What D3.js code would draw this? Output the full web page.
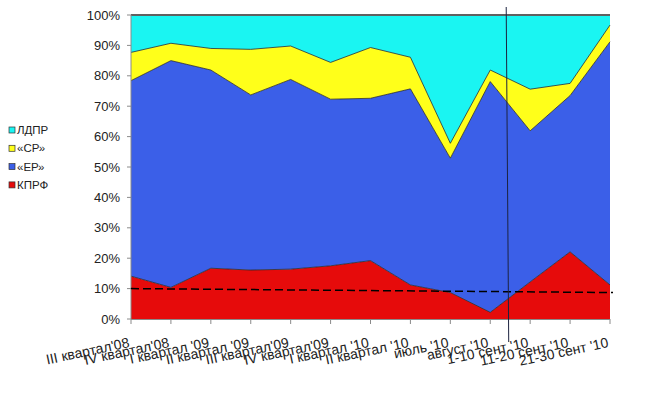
<!DOCTYPE html>
<html>
<head>
<meta charset="utf-8">
<script src="https://cdn.jsdelivr.net/npm/d3@7"></script>
<style>
  body { margin: 0; background: #fff; }
  svg { display: block; font-family: "Liberation Sans", Arial, sans-serif; }
</style>
</head>
<body>
<svg id="chart" width="649" height="397"></svg>
<script>
// periods along the x axis
const periods = ["III квартал'08", "IV квартал'08", "I квартал '09", "II квартал '09",
  "III квартал'09", "IV квартал'09", "I квартал '10", "II квартал '10",
  "июль '10", "август '10", "1-10 сент '10", "11-20 сент '10", "21-30 сент '10"];

// shares, percent (bottom to top)
const kprf = [14.1, 10.4, 16.7, 16.1, 16.4, 17.5, 19.2, 11.2, 8.7, 2.2, 12.2, 22.1, 11.2];
const er   = [64.3, 74.6, 65.2, 57.6, 62.4, 54.8, 53.4, 64.5, 44.2, 75.9, 49.7, 51.4, 80.0];
const sr   = [9.3, 5.7, 7.1, 15.0, 11.0, 12.1, 16.7, 10.4, 4.9, 3.8, 13.7, 4.0, 5.5];
const ldpr = kprf.map((d, i) => 100 - d - er[i] - sr[i]);

const seriesNames = ["КПРФ", "«ЕР»", "«СР»", "ЛДПР"];
const seriesColors = ["#e60b0b", "#3b5fe8", "#ffff1a", "#1af5f2"];
const yTicks = [0, 10, 20, 30, 40, 50, 60, 70, 80, 90, 100];
// dashed trend line (start / end, percent)
const trend = [10.0, 8.7];
// marker between "август '10" and "1-10 сент '10"
const markerPos = 9.4;

const svg = d3.select("#chart");
const margin = { left: 131, right: 39, top: 15, bottom: 78 };
const W = 649, H = 397;

const x = d3.scaleLinear().domain([0, periods.length - 1]).range([margin.left, W - margin.right]);
const y = d3.scaleLinear().domain([0, 100]).range([H - margin.bottom, margin.top]);

const rows = periods.map((p, i) => ({ i, "КПРФ": kprf[i], "«ЕР»": er[i], "«СР»": sr[i], "ЛДПР": ldpr[i] }));
const stacked = d3.stack().keys(seriesNames)(rows);

const area = d3.area()
  .x(d => x(d.data.i))
  .y0(d => y(d[0]))
  .y1(d => y(d[1]));
const topLine = d3.line()
  .x(d => x(d.data.i))
  .y(d => y(d[1]));

svg.append("g").selectAll("path")
  .data(stacked)
  .join("path")
  .attr("d", area)
  .attr("fill", (d, i) => seriesColors[i]);

// boundaries between layers
svg.append("g").selectAll("path")
  .data(stacked.slice(0, 3))
  .join("path")
  .attr("d", topLine)
  .attr("fill", "none")
  .attr("stroke", "#2a2a2a")
  .attr("stroke-width", 0.8);

// frame: top border, left axis, bottom axis
svg.append("line")
  .attr("x1", x(0)).attr("x2", x(periods.length - 1))
  .attr("y1", y(100)).attr("y2", y(100))
  .attr("stroke", "#606060").attr("stroke-width", 2);
svg.append("line")
  .attr("x1", x(0)).attr("x2", x(0))
  .attr("y1", y(100)).attr("y2", y(0))
  .attr("stroke", "#8a8a8a").attr("stroke-width", 1);
svg.append("line")
  .attr("x1", x(0)).attr("x2", x(periods.length - 1))
  .attr("y1", y(0) + 0.5).attr("y2", y(0) + 0.5)
  .attr("stroke", "#8a8a8a").attr("stroke-width", 1);

// y ticks + labels
const yg = svg.append("g");
yTicks.forEach(t => {
  yg.append("line")
    .attr("x1", x(0) - 4).attr("x2", x(0))
    .attr("y1", y(t)).attr("y2", y(t))
    .attr("stroke", "#8a8a8a");
  yg.append("text")
    .attr("x", 120).attr("y", y(t))
    .attr("dy", "0.36em")
    .attr("text-anchor", "end")
    .attr("font-size", 13)
    .attr("fill", "#222")
    .text(t + "%");
});

// x ticks + rotated labels
const xg = svg.append("g");
periods.forEach((p, i) => {
  xg.append("line")
    .attr("x1", x(i)).attr("x2", x(i))
    .attr("y1", y(0)).attr("y2", y(0) + 5)
    .attr("stroke", "#8a8a8a");
  xg.append("text")
    .attr("transform", `translate(${x(i) - 1},${y(0) + 28}) rotate(-12)`)
    .attr("text-anchor", "end")
    .attr("font-size", 14)
    .attr("fill", "#222")
    .text(p);
});

// dashed trend line
svg.append("line")
  .attr("x1", x(0)).attr("y1", y(trend[0]))
  .attr("x2", x(periods.length - 1) + 3).attr("y2", y(trend[1]))
  .attr("stroke", "#000")
  .attr("stroke-width", 1.5)
  .attr("stroke-dasharray", "8,4");

// vertical marker line
svg.append("line")
  .attr("x1", x(markerPos)).attr("y1", 7)
  .attr("x2", x(markerPos) + 2.5).attr("y2", 342)
  .attr("stroke", "#1c2340")
  .attr("stroke-width", 1);

// legend (top entry = top layer)
const legend = svg.append("g");
seriesNames.slice().reverse().forEach((name, k) => {
  const idx = seriesNames.indexOf(name);
  const cy = 130 + k * 18.3;
  legend.append("rect")
    .attr("x", 9).attr("y", cy - 3)
    .attr("width", 6).attr("height", 6)
    .attr("fill", seriesColors[idx])
    .attr("stroke", "#333").attr("stroke-width", 0.7);
  legend.append("text")
    .attr("x", 17).attr("y", cy)
    .attr("dy", "0.36em")
    .attr("font-size", 11.5)
    .attr("fill", "#222")
    .text(name);
});
</script>
</body>
</html>
